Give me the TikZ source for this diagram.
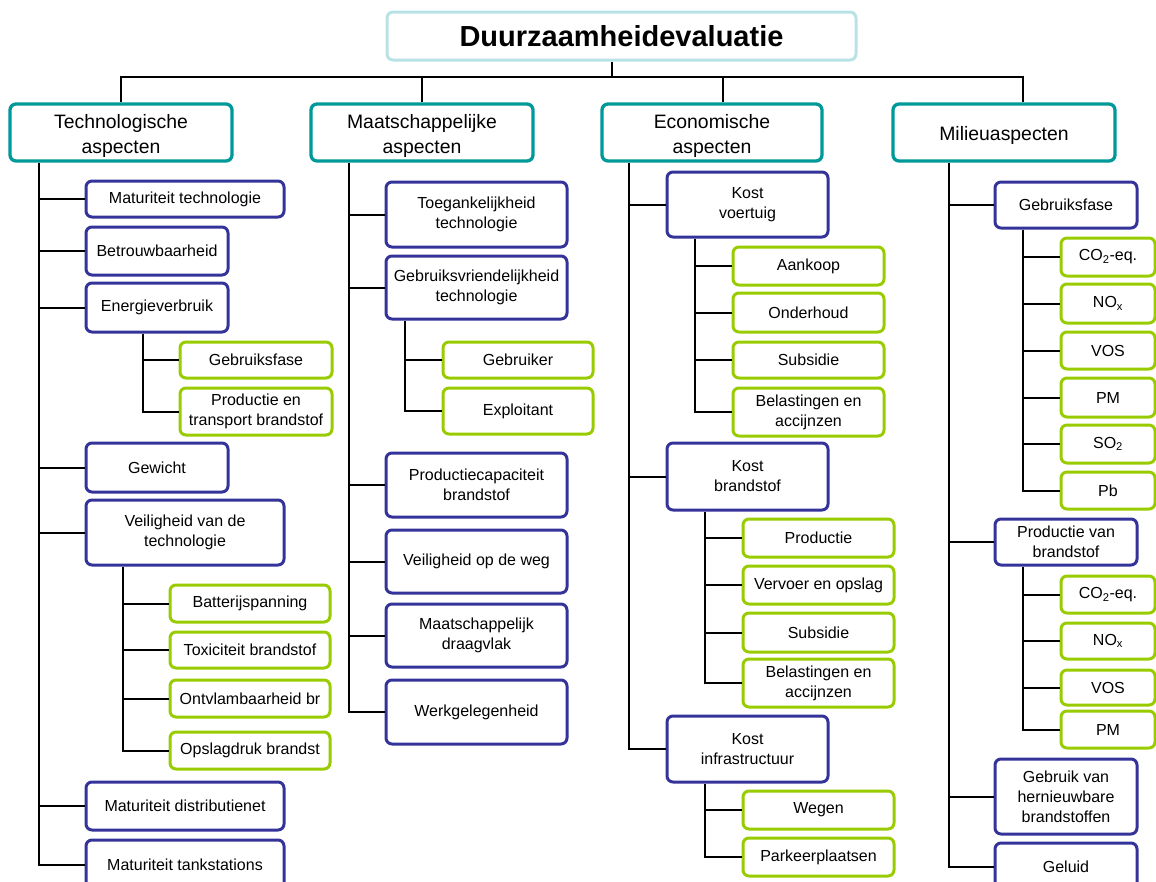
\documentclass[tikz,border=0pt]{standalone}
\usepackage{fontspec}
\setmainfont{Liberation Sans}
\definecolor{teal1}{RGB}{0,153,153}
\definecolor{navy1}{RGB}{51,51,153}
\definecolor{lime1}{RGB}{153,204,0}
\definecolor{pale1}{RGB}{185,226,230}
\newcommand\cattext[1]{\raisebox{0pt}[\dimexpr\height+6pt\relax][\depth]{\begin{tabular}{@{}c@{}}#1\end{tabular}}}
\begin{document}
\begin{tikzpicture}[x=1pt,y=-1pt,
  bxy/.style n args={4}{minimum width={#3-#1}, minimum height={#4-#2}, at={({(#1+#3)/2},{(#2+#4)/2})}},
  base/.style={rectangle, rounded corners=6pt, line width=3pt, fill=white, align=center, inner sep=0pt, text=black},
  titlebox/.style={base, draw=pale1, font=\bfseries\fontsize{29}{34}\selectfont},
  catbox/.style={base, draw=teal1, line width=3.3pt, font=\fontsize{19.4}{25}\selectfont},
  subbox/.style={base, draw=navy1, font=\fontsize{16}{20}\selectfont},
  leafbox/.style={base, draw=lime1, font=\fontsize{16}{20}\selectfont},
  link/.style={draw=black, line width=2pt}]
\useasboundingbox (0,0) rectangle (1156,881);

% title and categories
\node[titlebox, bxy={387}{12}{856}{60}] (title) {Duurzaamheidevaluatie};
\node[catbox, bxy={10}{104}{232}{161}] (tech) {\cattext{Technologische\\aspecten}};
\node[catbox, bxy={311}{104}{533}{161}] (maat) {\cattext{Maatschappelijke\\aspecten}};
\node[catbox, bxy={602}{104}{822}{161}] (econ) {\cattext{Economische\\aspecten}};
\node[catbox, bxy={893}{104}{1115}{161}] (mil) {\cattext{Milieuaspecten}};

% column 1
\node[subbox, bxy={86}{181}{284}{217}] (a1) {Maturiteit technologie};
\node[subbox, bxy={86}{227}{228}{275}] (a2) {Betrouwbaarheid};
\node[subbox, bxy={86}{283}{228}{332}] (a3) {Energieverbruik};
\node[leafbox, bxy={180}{342}{332}{378}] (g1) {Gebruiksfase};
\node[leafbox, bxy={180}{388}{332}{435}] (g2) {Productie en\\transport brandstof};
\node[subbox, bxy={86}{443}{228}{492}] (a4) {Gewicht};
\node[subbox, bxy={86}{500}{284}{565}] (a5) {Veiligheid van de\\technologie};
\node[leafbox, bxy={170}{585}{330}{622}] (g3) {Batterijspanning};
\node[leafbox, bxy={170}{632}{330}{668}] (g4) {Toxiciteit brandstof};
\node[leafbox, bxy={170}{680}{330}{717}] (g5) {Ontvlambaarheid br};
\node[leafbox, bxy={170}{732}{330}{769}] (g6) {Opslagdruk brandst};
\node[subbox, bxy={86}{782}{284}{830}] (a6) {Maturiteit distributienet};
\node[subbox, bxy={86}{840}{284}{890}] (a7) {Maturiteit tankstations};

% column 2
\node[subbox, bxy={386}{182}{567}{247}] (b1) {Toegankelijkheid\\technologie};
\node[subbox, bxy={386}{256}{567}{319}] (b2) {Gebruiksvriendelijkheid\\technologie};
\node[leafbox, bxy={443}{342}{593}{378}] (h1) {Gebruiker};
\node[leafbox, bxy={443}{388}{593}{434}] (h2) {Exploitant};
\node[subbox, bxy={386}{453}{567}{517}] (b3) {Productiecapaciteit\\brandstof};
\node[subbox, bxy={386}{530}{567}{593}] (b4) {Veiligheid op de weg};
\node[subbox, bxy={386}{604}{567}{667}] (b5) {Maatschappelijk\\draagvlak};
\node[subbox, bxy={386}{680}{567}{744}] (b6) {Werkgelegenheid};

% column 3
\node[subbox, bxy={667}{172}{828}{237}] (c1) {Kost\\voertuig};
\node[leafbox, bxy={733}{247}{884}{285}] (k1) {Aankoop};
\node[leafbox, bxy={733}{293}{884}{332}] (k2) {Onderhoud};
\node[leafbox, bxy={733}{342}{884}{378}] (k3) {Subsidie};
\node[leafbox, bxy={733}{388}{884}{436}] (k4) {Belastingen en\\accijnzen};
\node[subbox, bxy={667}{443}{828}{510}] (c2) {Kost\\brandstof};
\node[leafbox, bxy={743}{519}{894}{557}] (k5) {Productie};
\node[leafbox, bxy={743}{566}{894}{604}] (k6) {Vervoer en opslag};
\node[leafbox, bxy={743}{613}{894}{652}] (k7) {Subsidie};
\node[leafbox, bxy={743}{659}{894}{707}] (k8) {Belastingen en\\accijnzen};
\node[subbox, bxy={667}{716}{828}{782}] (c3) {Kost\\infrastructuur};
\node[leafbox, bxy={743}{791}{894}{829}] (k9) {Wegen};
\node[leafbox, bxy={743}{838}{894}{876}] (k10) {Parkeerplaatsen};

% column 4
\node[subbox, bxy={995}{182}{1137}{228}] (d1) {Gebruiksfase};
\node[leafbox, bxy={1061}{238}{1155}{276}] (m1) {CO\textsubscript{2}-eq.};
\node[leafbox, bxy={1061}{284}{1155}{323}] (m2) {NO\textsubscript{x}};
\node[leafbox, bxy={1061}{332}{1155}{369}] (m3) {VOS};
\node[leafbox, bxy={1061}{378}{1155}{417}] (m4) {PM};
\node[leafbox, bxy={1061}{425}{1155}{463}] (m5) {SO\textsubscript{2}};
\node[leafbox, bxy={1061}{472}{1155}{509}] (m6) {Pb};
\node[subbox, bxy={995}{519}{1137}{565}] (d2) {Productie van\\brandstof};
\node[leafbox, bxy={1061}{576}{1155}{613}] (m7) {CO\textsubscript{2}-eq.};
\node[leafbox, bxy={1061}{623}{1155}{659}] (m8) {NO\textsubscript{x}};
\node[leafbox, bxy={1061}{670}{1155}{705}] (m9) {VOS};
\node[leafbox, bxy={1061}{711}{1155}{748}] (m10) {PM};
\node[subbox, bxy={995}{759}{1137}{834}] (d3) {Gebruik van\\hernieuwbare\\brandstoffen};
\node[subbox, bxy={995}{843}{1137}{891}] (d4) {Geluid};

% trunk coordinates
\coordinate (bus) at (0,77);
\coordinate (tA) at (39,0);
\coordinate (tB) at (349,0);
\coordinate (tC) at (629,0);
\coordinate (tD) at (949,0);
\coordinate (sA3) at (143,0);
\coordinate (sA5) at (123,0);
\coordinate (sB2) at (405,0);
\coordinate (sC1) at (695,0);
\coordinate (sC2) at (705,0);
\coordinate (sD) at (1023,0);

% top bus
\draw[link] ([xshift=-9.5]title.south) -- ([xshift=-9.5]title.south |- bus);
\draw[link] (tech.north) |- ([xshift=19]mil.north |- bus) -- ([xshift=19]mil.north);
\draw[link] (maat.north) -- (maat.north |- bus);
\draw[link] ([xshift=11]econ.north) -- ([xshift=11]econ.north |- bus);

% column 1 connectors
\draw[link] (tA |- tech.south) |- (a7.west);
\foreach \n in {a1,a2,a3,a4,a5,a6} \draw[link] (tA |- \n.west) -- (\n.west);
\draw[link] (sA3 |- a3.south) |- (g2.west);
\draw[link] (sA3 |- g1.west) -- (g1.west);
\draw[link] (sA5 |- a5.south) |- (g6.west);
\foreach \n in {g3,g4,g5} \draw[link] (sA5 |- \n.west) -- (\n.west);

% column 2 connectors
\draw[link] (tB |- maat.south) |- (b6.west);
\foreach \n in {b1,b2,b3,b4,b5} \draw[link] (tB |- \n.west) -- (\n.west);
\draw[link] (sB2 |- b2.south) |- (h2.west);
\draw[link] (sB2 |- h1.west) -- (h1.west);

% column 3 connectors
\draw[link] (tC |- econ.south) |- (c3.west);
\foreach \n in {c1,c2} \draw[link] (tC |- \n.west) -- (\n.west);
\draw[link] (sC1 |- c1.south) |- (k4.west);
\foreach \n in {k1,k2,k3} \draw[link] (sC1 |- \n.west) -- (\n.west);
\draw[link] (sC2 |- c2.south) |- (k8.west);
\foreach \n in {k5,k6,k7} \draw[link] (sC2 |- \n.west) -- (\n.west);
\draw[link] (sC2 |- c3.south) |- (k10.west);
\draw[link] (sC2 |- k9.west) -- (k9.west);

% column 4 connectors
\draw[link] (tD |- mil.south) |- (d4.west);
\foreach \n in {d1,d2,d3} \draw[link] (tD |- \n.west) -- (\n.west);
\draw[link] (sD |- d1.south) |- (m6.west);
\foreach \n in {m1,m2,m3,m4,m5} \draw[link] (sD |- \n.west) -- (\n.west);
\draw[link] (sD |- d2.south) |- (m10.west);
\foreach \n in {m7,m8,m9} \draw[link] (sD |- \n.west) -- (\n.west);
\end{tikzpicture}
\end{document}
